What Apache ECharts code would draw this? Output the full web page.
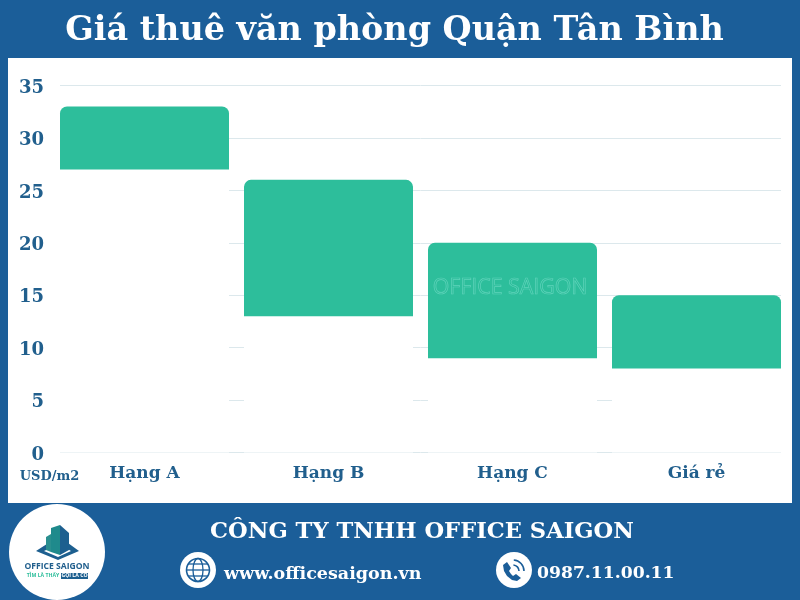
<!DOCTYPE html>
<html>
<head>
<meta charset="utf-8">
<title>Giá thuê văn phòng Quận Tân Bình</title>
<script src="https://cdn.jsdelivr.net/npm/echarts@6/dist/echarts.min.js"></script>
<style>
  html, body { margin: 0; padding: 0; background: #1b5e99; }
  #chart { width: 800px; height: 600px; }
</style>
</head>
<body>
<div id="chart"></div>
<script>
const categories = ["Hạng A", "Hạng B", "Hạng C", "Giá rẻ"];
// low end of each price range, and how far it goes up (USD/m2)
const lowValues = [27, 13, 9, 8];
const spreadValues = [6, 13, 11, 7];

const BLUE = "#1b5e99";
const TEXT_BLUE = "#215f8d";
const GREEN = "#2dbe9b";
const SERIF = "'DejaVu Serif', serif";
const SANS = "'Open Sans', sans-serif";

const chart = echarts.init(document.getElementById("chart"));

function label(text, x, y, size, fill, align, family) {
  return {
    type: "text", x: x, y: y,
    style: { text: text, fill: fill, font: "bold " + size + "px " + (family || SERIF), align: align || "center", verticalAlign: "middle" }
  };
}

// decoration around the chart: panel, footer, logo and contact icons
const decoration = [
  { type: "rect", z: -10, shape: { x: 8, y: 58, width: 784, height: 445 }, style: { fill: "#fff" } },
  label("Giá thuê văn phòng Quận Tân Bình", 394.5, 31, 33.4, "#fff"),
  label("CÔNG TY TNHH OFFICE SAIGON", 422, 532, 22.6, "#fff"),
  label("www.officesaigon.vn", 224, 574, 17.5, "#fff", "left"),
  label("0987.11.00.11", 537, 574, 17.2, "#fff", "left"),
  label("USD/m2", 49.5, 477, 13, TEXT_BLUE),
  // watermark
  {
    type: "text", x: 510, y: 288, z: 50,
    style: {
      text: "OFFICE SAIGON", font: "21.3px " + SANS, align: "center", verticalAlign: "middle",
      fill: "transparent", stroke: "#5fd3ba", lineWidth: 0.7
    }
  },
  // logo
  { type: "circle", shape: { cx: 57, cy: 552, r: 48 }, style: { fill: "#fff" } },
  { type: "polygon", shape: { points: [[36, 551], [50, 542], [57, 545], [44, 551], [58, 557], [71, 551], [66, 548], [68, 543], [79, 551], [58, 560]] }, style: { fill: "#1d5f8f" } },
  { type: "polygon", shape: { points: [[46, 537], [51, 534], [51, 552], [46, 550]] }, style: { fill: "#2a8f8f" } },
  { type: "polygon", shape: { points: [[51, 528], [60, 525], [60, 555], [51, 552]] }, style: { fill: "#1f8a8c" } },
  { type: "polygon", shape: { points: [[60, 525], [60, 555], [69, 550], [69, 533]] }, style: { fill: "#1d5f8f" } },
  label("OFFICE SAIGON", 57, 567, 8.6, TEXT_BLUE, "center", SANS),
  label("TÌM LÀ THẤY", 43, 576, 5.2, "#2dbe9b", "center", SANS),
  { type: "rect", shape: { x: 61, y: 573, width: 27, height: 6 }, style: { fill: "#1d5f8f" } },
  label("GỌI LÀ CÓ", 74.5, 576, 5.2, "#fff", "center", SANS),
  // globe icon
  { type: "circle", shape: { cx: 198, cy: 570, r: 18 }, style: { fill: "#fff" } },
  { type: "circle", shape: { cx: 198, cy: 570, r: 11.5 }, style: { fill: "none", stroke: BLUE, lineWidth: 1.6 } },
  { type: "ellipse", shape: { cx: 198, cy: 570, rx: 5, ry: 11.5 }, style: { fill: "none", stroke: BLUE, lineWidth: 1.3 } },
  { type: "line", shape: { x1: 186.5, y1: 570, x2: 209.5, y2: 570 }, style: { stroke: BLUE, lineWidth: 1.3 } },
  { type: "line", shape: { x1: 188, y1: 564, x2: 208, y2: 564 }, style: { stroke: BLUE, lineWidth: 1.3 } },
  { type: "line", shape: { x1: 188, y1: 576, x2: 208, y2: 576 }, style: { stroke: BLUE, lineWidth: 1.3 } },
  // phone icon
  { type: "circle", shape: { cx: 514, cy: 570, r: 18 }, style: { fill: "#fff" } },
  { type: "polygon", shape: { points: [[503, 565], [507, 562], [511, 568], [509, 571], [511, 574], [513, 576], [516, 574], [521, 578], [517, 581], [512, 580], [507, 576], [504, 571]] }, style: { fill: BLUE } },
  { type: "arc", shape: { cx: 513, cy: 571, r: 6, startAngle: -1.5, endAngle: 0 }, style: { fill: "none", stroke: BLUE, lineWidth: 1.6 } },
  { type: "arc", shape: { cx: 513, cy: 571, r: 11, startAngle: -1.5, endAngle: 0 }, style: { fill: "none", stroke: BLUE, lineWidth: 1.6 } }
];

const option = {
  backgroundColor: BLUE,
  animation: false,
  textStyle: { fontFamily: SERIF },
  graphic: { elements: decoration },
  // grid 0 carries the value axis and its lines, grid 1 the wider bars
  grid: [
    { left: 60, right: 19, top: 85.5, height: 367, containLabel: false },
    { left: 52.5, right: 11.5, top: 85.5, height: 367, containLabel: false }
  ],
  xAxis: [
    { type: "category", gridIndex: 0, data: categories, show: false },
    {
      type: "category", gridIndex: 1, data: categories,
      axisLine: { show: false }, axisTick: { show: false },
      axisLabel: { color: TEXT_BLUE, fontFamily: SERIF, fontWeight: "bold", fontSize: 17, margin: 13 }
    }
  ],
  yAxis: [
    {
      type: "value", gridIndex: 0, min: 0, max: 35, interval: 5,
      axisLine: { show: false }, axisTick: { show: false },
      // a thin line box set from the top drops the digits about 2px under the tick
      axisLabel: { color: TEXT_BLUE, fontFamily: SERIF, fontWeight: "bold", fontSize: 18, margin: 16, verticalAlign: "top", lineHeight: 5 },
      splitLine: { show: true, lineStyle: { color: "#dce8ec", width: 1 } }
    },
    { type: "value", gridIndex: 1, min: 0, max: 35, interval: 5, show: false, splitLine: { show: false } }
  ],
  series: [
    {
      name: "low", type: "bar", stack: "range", xAxisIndex: 1, yAxisIndex: 1,
      data: lowValues, barWidth: 169, itemStyle: { color: "#fff" }, silent: true
    },
    {
      name: "spread", type: "bar", stack: "range", xAxisIndex: 1, yAxisIndex: 1,
      data: spreadValues, barWidth: 169,
      itemStyle: { color: GREEN, borderRadius: [7, 7, 0, 0] }
    }
  ]
};

chart.setOption(option);
</script>
</body>
</html>
